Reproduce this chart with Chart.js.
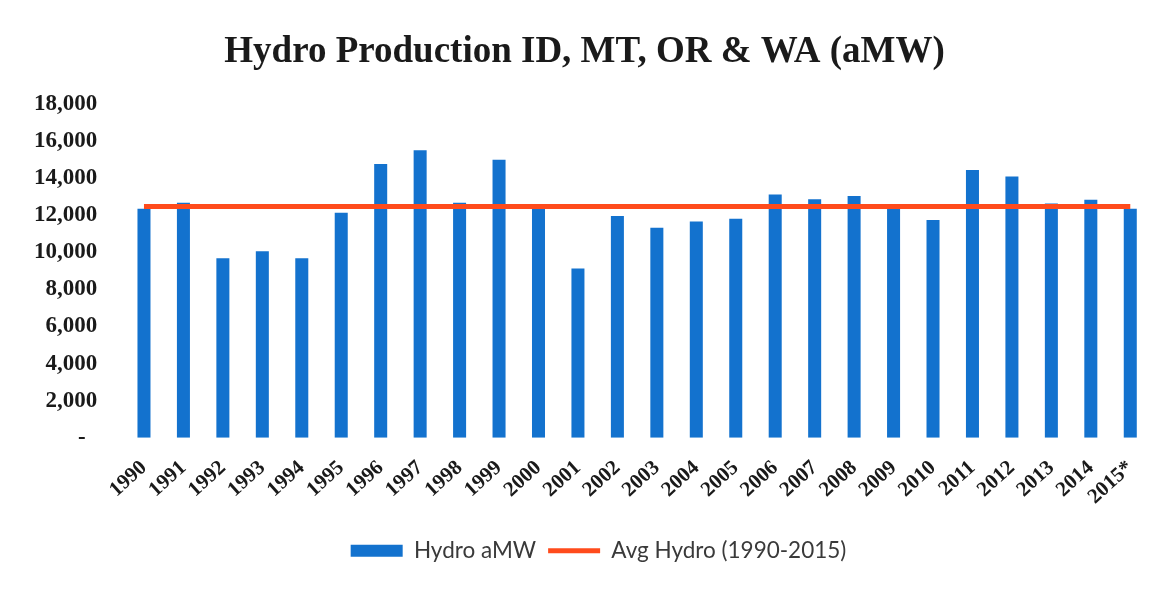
<!DOCTYPE html>
<html>
<head>
<meta charset="utf-8">
<script src="https://cdn.jsdelivr.net/npm/chart.js@4/dist/chart.umd.min.js"></script>
<style>
html,body{margin:0;padding:0;background:#fff;}
#wrap{width:1175px;height:591px;position:relative;}
</style>
</head>
<body>
<div id="wrap"><canvas id="c" width="1175" height="591"></canvas></div>
<script>
const years = ['1990','1991','1992','1993','1994','1995','1996','1997','1998','1999','2000','2001','2002','2003','2004','2005','2006','2007','2008','2009','2010','2011','2012','2013','2014','2015*'];
const hydroAMW = [12370,12690,9690,10070,9690,12150,14780,15530,12690,15010,12370,9140,11970,11340,11680,11830,13130,12870,13050,12400,11760,14450,14100,12650,12850,12370];
const avgHydro = [12480,12480,12480,12480,12480,12480,12480,12480,12480,12480,12480,12480,12480,12480,12480,12480,12480,12480,12480,12480,12480,12480,12480,12480,12480,12480];
const yTicks = [0,2000,4000,6000,8000,10000,12000,14000,16000,18000];

const BLUE = '#1372CE';
const RED = '#FF4B1C';

// shift the centred title / legend blocks slightly to match the reference
const shiftBlocks = {
  id: 'shiftBlocks',
  afterLayout(chart) {
    if (chart.titleBlock) { chart.titleBlock.left += 6; chart.titleBlock.right += 6; }
    if (chart.legend) { chart.legend.left += 20; chart.legend.right += 20; }
  }
};

new Chart(document.getElementById('c'), {
  data: {
    labels: years,
    datasets: [
      {
        type: 'line',
        label: 'Avg Hydro (1990-2015)',
        data: avgHydro,
        borderColor: RED,
        backgroundColor: RED,
        borderWidth: 5,
        pointRadius: 0,
        order: 0
      },
      {
        type: 'bar',
        label: 'Hydro aMW',
        data: hydroAMW,
        backgroundColor: BLUE,
        borderWidth: 0,
        categoryPercentage: 1,
        barPercentage: 0.33,
        order: 1
      }
    ]
  },
  plugins: [shiftBlocks],
  options: {
    responsive: false,
    animation: false,
    layout: { padding: { left: 7, right: 25, top: 0, bottom: 19 } },
    plugins: {
      title: {
        display: true,
        text: 'Hydro Production ID, MT, OR & WA (aMW)',
        color: '#1a1a1a',
        font: { family: 'Liberation Serif', size: 37, weight: 'bold' },
        padding: { top: 30, bottom: 30 }
      },
      legend: {
        position: 'bottom',
        reverse: true,
        labels: {
          color: '#3a3a3a',
          font: { family: 'Lato', size: 22.5 },
          usePointStyle: true,
          pointStyleWidth: 52,
          boxHeight: 12,
          padding: 12,
          generateLabels: function(chart) {
            return chart.data.datasets.map(function(ds, i) {
              const isLine = ds.type === 'line';
              return {
                text: ds.label,
                fillStyle: isLine ? RED : BLUE,
                strokeStyle: isLine ? RED : BLUE,
                lineWidth: isLine ? 5 : 0,
                pointStyle: isLine ? 'line' : 'rect',
                hidden: false,
                datasetIndex: i,
                fontColor: '#3a3a3a'
              };
            });
          }
        }
      },
      tooltip: { enabled: false }
    },
    scales: {
      x: {
        offset: true,
        grid: { display: false, drawTicks: false },
        border: { display: false },
        ticks: {
          color: '#1a1a1a',
          font: { family: 'Liberation Serif', size: 21, weight: 'bold' },
          minRotation: 42,
          maxRotation: 42,
          autoSkip: false,
          padding: 18
        }
      },
      y: {
        min: 0,
        max: 18000,
        grid: { display: false, drawTicks: false },
        border: { display: false },
        afterBuildTicks: function(axis) {
          axis.ticks = yTicks.map(function(v){ return { value: v }; });
        },
        ticks: {
          color: '#1a1a1a',
          font: { family: 'Liberation Serif', size: 23, weight: 'bold' },
          padding: 27,
          callback: function(v) {
            return v === 0 ? '-  ' : Number(v).toLocaleString('en-US');
          }
        }
      }
    }
  }
});
</script>
</body>
</html>
